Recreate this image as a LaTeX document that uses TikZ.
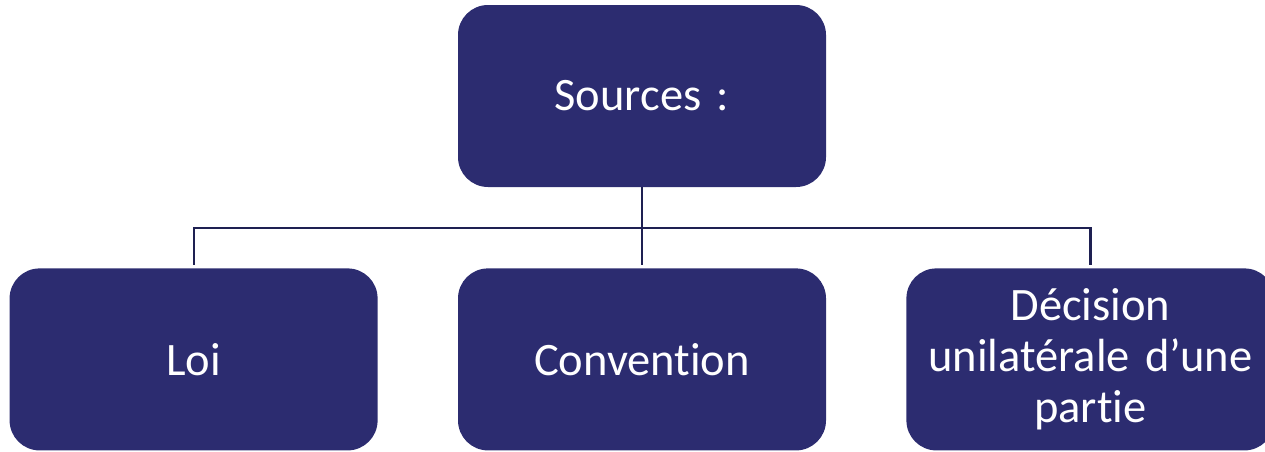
\documentclass[tikz,border=0pt]{standalone}
\usepackage{fontspec}
\setmainfont[Ligatures={NoCommon}]{Carlito}
\usetikzlibrary{positioning}
\definecolor{navy}{RGB}{44,44,112}
\definecolor{darknavy}{RGB}{30,32,82}
\tikzstyle{block} = [rectangle, fill=navy, text=white, text width=350pt, align=center,
    rounded corners=30pt, minimum width=368pt, minimum height=182pt, inner sep=0pt,
    font=\fontsize{46.5}{51}\selectfont]
\tikzstyle{line} = [draw=darknavy, line width=2.2pt]

\begin{document}
\begin{tikzpicture}[x=1pt, y=1pt]
		\clip (0,0) rectangle (1265,-451);
		\node [block] (sources) at (642,-96) {Sources :};
		\node [block, below=81pt of sources] (convention) {Convention};
		\node [block, left=80pt of convention] (loi) {Loi};
		\node [block, right=80pt of convention] (decision) {Décision\\unilatérale d’une\\partie};
		\coordinate [below=41pt of sources.south] (split);
		
		\path [line] (sources.south) -- (split);
		\path [line, shorten >=3pt] (split) -| (loi.north);
		\path [line, shorten >=3pt] (split) -- (convention.north);
		\path [line, shorten >=3pt] (split) -| (decision.north);
	\end{tikzpicture}
\end{document}
